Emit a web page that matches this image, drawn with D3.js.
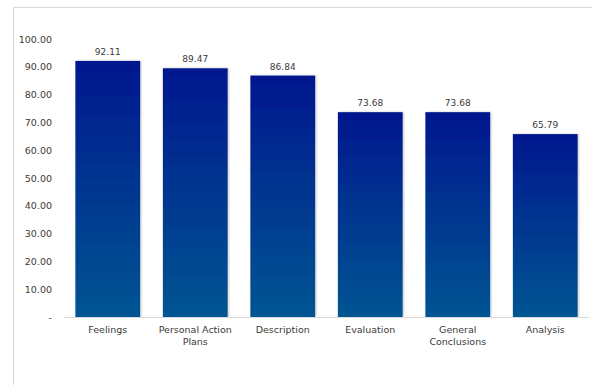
<!DOCTYPE html>
<html>
<head>
<meta charset="utf-8">
<script src="https://cdn.jsdelivr.net/npm/d3@7"></script>
<style>
  html, body { margin: 0; padding: 0; background: #fff; }
  svg { display: block; }
  text { font-family: "DejaVu Sans", Verdana, sans-serif; fill: #3a3a3a; }
</style>
</head>
<body>
<svg id="chart" width="592" height="385"></svg>
<script>
// Scores per reflection category
const categories = [["Feelings"], ["Personal Action", "Plans"], ["Description"], ["Evaluation"], ["General", "Conclusions"], ["Analysis"]];
const values = [92.11, 89.47, 86.84, 73.68, 73.68, 65.79];
const yTicks = [0, 10, 20, 30, 40, 50, 60, 70, 80, 90, 100];

const svg = d3.select("#chart");

// Chart frame
svg.append("rect")
  .attr("x", 13.5).attr("y", 7.5)
  .attr("width", 600).attr("height", 400)
  .attr("fill", "none").attr("stroke", "#d9d9d9");

const x = d3.scaleBand()
  .domain(d3.range(values.length))
  .range([64, 589])
  .paddingInner(0.26)
  .paddingOuter(0.13);

const y = d3.scaleLinear().domain([0, 100]).range([317, 39]);

// Bar gradient, applied per bar from top to bottom
const defs = svg.append("defs");
const grad = defs.append("linearGradient")
  .attr("id", "barGrad")
  .attr("x1", 0).attr("y1", 0).attr("x2", 0).attr("y2", 1);
grad.append("stop").attr("offset", "0%").attr("stop-color", "#00178e");
grad.append("stop").attr("offset", "100%").attr("stop-color", "#005592");

const shadow = defs.append("filter").attr("id", "shadow")
  .attr("x", "-10%").attr("y", "-10%").attr("width", "120%").attr("height", "120%");
shadow.append("feDropShadow")
  .attr("dx", 1).attr("dy", 0).attr("stdDeviation", 1)
  .attr("flood-color", "#000").attr("flood-opacity", 0.25);

// Y axis labels (no axis line)
const yAxis = d3.axisLeft(y)
  .tickValues(yTicks)
  .tickSize(0)
  .tickPadding(0)
  .tickFormat(d => d === 0 ? "-" : d3.format(".2f")(d));
const yg = svg.append("g").attr("transform", "translate(52,0)").call(yAxis);
yg.select(".domain").remove();
yg.selectAll("text")
  .attr("font-size", 9.5)
  .attr("font-family", "DejaVu Sans, Verdana, sans-serif")
  .attr("fill", "#3a3a3a");

// Bars
svg.append("g").selectAll("rect")
  .data(values)
  .join("rect")
  .attr("x", (d, i) => x(i))
  .attr("y", d => y(d))
  .attr("width", x.bandwidth())
  .attr("height", d => y(0) - y(d))
  .attr("fill", "url(#barGrad)")
  .attr("filter", "url(#shadow)");

// Baseline
svg.append("line")
  .attr("x1", 64).attr("x2", 589)
  .attr("y1", y(0) + 0.5).attr("y2", y(0) + 0.5)
  .attr("stroke", "#d9d9d9");

// Value labels
svg.append("g").selectAll("text")
  .data(values)
  .join("text")
  .attr("x", (d, i) => x(i) + x.bandwidth() / 2)
  .attr("y", d => y(d) - 6)
  .attr("text-anchor", "middle")
  .attr("font-size", 9)
  .text(d => d3.format(".2f")(d));

// Category labels
const cat = svg.append("g").selectAll("text")
  .data(categories)
  .join("text")
  .attr("x", (d, i) => x(i) + x.bandwidth() / 2)
  .attr("y", 333)
  .attr("text-anchor", "middle")
  .attr("font-size", 9.5);
cat.selectAll("tspan")
  .data(d => d)
  .join("tspan")
  .attr("x", function () { return d3.select(this.parentNode).attr("x"); })
  .attr("dy", (d, i) => i === 0 ? 0 : 12)
  .text(d => d);
</script>
</body>
</html>
